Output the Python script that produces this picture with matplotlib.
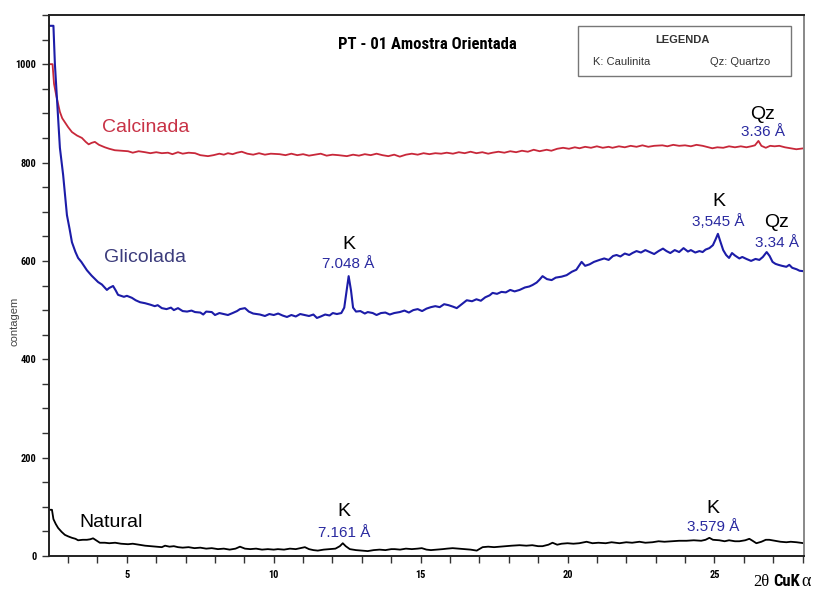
import matplotlib.pyplot as plt
from matplotlib.patches import Rectangle
from matplotlib.ticker import MultipleLocator

# Calcinada (red)
calc_x = [2.35, 2.47, 2.52, 2.6, 2.72, 2.8, 2.89, 3.0, 3.13, 3.3, 3.47, 3.6, 3.7, 3.8, 3.91,
          4.05, 4.25, 4.4, 4.59, 4.8, 5.04, 5.2, 5.4, 5.62, 5.8, 6.0, 6.19, 6.4, 6.55, 6.74,
          6.9, 7.1, 7.32, 7.5, 7.76, 7.95, 8.15, 8.3, 8.44, 8.6, 8.75, 8.91, 9.1, 9.3, 9.5,
          9.7, 9.9, 10.2, 10.4, 10.6, 10.8, 11.0, 11.2, 11.4, 11.6, 11.8, 12.0, 12.2, 12.49,
          12.7, 12.9, 13.1, 13.3, 13.5, 13.7, 13.9, 14.1, 14.29, 14.5, 14.7, 14.9, 15.1, 15.3,
          15.5, 15.7, 15.89, 16.1, 16.3, 16.5, 16.7, 16.9, 17.1, 17.3, 17.45, 17.65, 17.85,
          18.05, 18.25, 18.45, 18.65, 18.85, 19.05, 19.29, 19.45, 19.65, 19.85, 20.05, 20.25,
          20.41, 20.6, 20.8, 21.0, 21.2, 21.4, 21.53, 21.75, 21.95, 22.15, 22.35, 22.55, 22.75,
          22.95, 23.23, 23.4, 23.6, 23.8, 24.0, 24.2, 24.39, 24.6, 24.8, 24.93, 25.1, 25.3,
          25.5, 25.7, 25.9, 26.09, 26.25, 26.38, 26.5, 26.6, 26.75, 26.9, 27.05, 27.21, 27.4,
          27.6, 27.79, 28.05]
calc_y = [1000, 1000, 960, 935, 903, 890, 882, 872, 862, 855, 850, 842, 837, 840, 842,
          836, 831, 828, 825, 824, 823, 820, 823, 821, 819, 821, 819, 820, 817, 821,
          818, 820, 819, 815, 813, 815, 818, 816, 819, 817, 820, 822, 818, 816, 819,
          816, 818, 817, 815, 818, 815, 817, 814, 816, 818, 814, 816, 815, 813,
          816, 814, 817, 815, 818, 815, 813, 816, 812, 816, 818, 816, 819, 817,
          819, 818, 820, 818, 821, 819, 822, 819, 821, 818, 820, 822, 820,
          823, 821, 824, 822, 826, 823, 826, 824, 828, 830, 828, 831,
          829, 832, 830, 833, 830, 832, 830, 833, 831, 834, 832, 835, 832,
          834, 835, 833, 836, 834, 835, 833, 836, 834, 831, 829, 831, 830,
          833, 831, 833, 831, 833, 835, 844, 834, 830, 834, 833, 834, 831,
          829, 827, 829]

# Glicolada (blue)
glic_x = [2.35, 2.5, 2.55, 2.65, 2.72, 2.83, 2.96, 3.05, 3.13, 3.25, 3.34, 3.45, 3.64, 3.8,
          4.02, 4.15, 4.32, 4.4, 4.53, 4.62, 4.7, 4.9, 5.0, 5.17, 5.3, 5.45, 5.62, 5.8, 5.95,
          6.05, 6.19, 6.35, 6.5, 6.6, 6.74, 6.9, 7.05, 7.2, 7.32, 7.5, 7.6, 7.7, 7.89, 8.0,
          8.15, 8.3, 8.44, 8.6, 8.75, 8.85, 9.02, 9.15, 9.3, 9.53, 9.7, 9.85, 10.0, 10.15,
          10.3, 10.45, 10.6, 10.75, 10.9, 11.05, 11.2, 11.35, 11.47, 11.6, 11.75, 11.9, 12.01,
          12.15, 12.3, 12.4, 12.47, 12.55, 12.63, 12.7, 12.8, 12.95, 13.1, 13.2, 13.37, 13.5,
          13.65, 13.8, 13.95, 14.1, 14.29, 14.45, 14.6, 14.75, 14.9, 15.05, 15.2, 15.35, 15.5,
          15.65, 15.8, 15.95, 16.1, 16.23, 16.4, 16.57, 16.75, 16.9, 17.05, 17.2, 17.35,
          17.45, 17.6, 17.75, 17.9, 18.05, 18.2, 18.37, 18.55, 18.7, 18.81, 18.95, 19.05,
          19.15, 19.3, 19.46, 19.6, 19.8, 19.97, 20.15, 20.3, 20.48, 20.6, 20.75, 20.9, 21.09,
          21.25, 21.4, 21.55, 21.67, 21.8, 21.95, 22.1, 22.21, 22.35, 22.5, 22.65, 22.8,
          22.95, 23.1, 23.25, 23.37, 23.5, 23.65, 23.8, 23.95, 24.1, 24.2, 24.35, 24.49,
          24.6, 24.7, 24.83, 24.95, 25.05, 25.12, 25.2, 25.3, 25.4, 25.5, 25.6, 25.7, 25.85,
          25.95, 26.09, 26.25, 26.4, 26.53, 26.65, 26.78, 26.88, 26.98, 27.08, 27.18, 27.3,
          27.45, 27.55, 27.65, 27.8, 27.9, 28.05]
glic_y = [1078, 1078, 1000, 900, 830, 775, 693, 665, 638, 618, 606, 598, 581, 570,
          557, 552, 541, 545, 549, 540, 531, 527, 529, 525, 520, 516, 514, 511, 508,
          510, 504, 502, 505, 500, 504, 498, 497, 499, 496, 495, 491, 497, 496, 490,
          494, 492, 490, 494, 498, 502, 504, 497, 493, 491, 488, 492, 490, 493,
          489, 486, 490, 487, 492, 490, 488, 491, 484, 487, 491, 489, 494,
          492, 494, 505, 535, 569, 540, 505, 497, 498, 493, 496, 494, 490,
          494, 495, 491, 494, 496, 499, 495, 500, 502, 498, 503, 506, 508,
          506, 512, 510, 507, 504, 512, 520, 518, 522, 519, 526, 530,
          535, 533, 537, 536, 541, 538, 541, 546, 548, 551, 556, 562,
          569, 563, 561, 566, 568, 571, 578, 582, 598, 590, 593, 598, 602,
          605, 602, 610, 612, 609, 615, 612, 616, 620, 617, 622, 618,
          614, 620, 625, 620, 616, 622, 618, 626, 619, 622, 617, 620,
          618, 623, 626, 632, 645, 655, 640, 622, 612, 606, 616, 611, 605,
          608, 604, 600, 604, 602, 608, 618, 610, 598, 594, 592, 590,
          588, 592, 586, 583, 580, 579]

# Natural (black)
nat_x = [2.35, 2.45, 2.5, 2.58, 2.66, 2.78, 2.89, 3.0, 3.13, 3.25, 3.34, 3.5, 3.64, 3.75,
         3.85, 3.95, 4.08, 4.25, 4.4, 4.6, 4.8, 5.04, 5.2, 5.4, 5.62, 5.8, 6.0, 6.19, 6.3,
         6.45, 6.6, 6.74, 6.9, 7.1, 7.3, 7.5, 7.7, 7.89, 8.1, 8.3, 8.5, 8.7, 8.85, 9.02,
         9.2, 9.4, 9.6, 9.8, 10.0, 10.14, 10.35, 10.55, 10.75, 10.9, 11.06, 11.2, 11.35,
         11.5, 11.7, 11.9, 12.1, 12.25, 12.35, 12.45, 12.59, 12.8, 13.0, 13.2, 13.4, 13.6,
         13.8, 14.0, 14.12, 14.3, 14.5, 14.7, 14.9, 15.04, 15.2, 15.35, 15.55, 15.75, 15.9,
         16.09, 16.3, 16.5, 16.7, 16.91, 17.11, 17.3, 17.5, 17.7, 17.9, 18.1, 18.37, 18.6,
         18.8, 19.0, 19.15, 19.35, 19.49, 19.65, 19.8, 20.0, 20.2, 20.4, 20.65, 20.85,
         21.05, 21.3, 21.5, 21.77, 22.0, 22.2, 22.45, 22.65, 22.89, 23.1, 23.3, 23.55, 23.8,
         24.05, 24.3, 24.55, 24.7, 24.83, 24.95, 25.17, 25.35, 25.5, 25.7, 25.85, 26.05,
         26.19, 26.3, 26.43, 26.6, 26.75, 26.87, 27.05, 27.25, 27.45, 27.6, 27.8, 28.05]
nat_y = [94, 94, 75, 65, 57, 49, 43, 40, 37, 35, 32, 33, 33, 34,
         36, 32, 27, 27, 26, 27, 25, 24, 25, 23, 21, 20, 19, 18, 21,
         19, 20, 18, 17, 18, 16, 17, 15, 16, 14, 15, 13, 15, 19, 15,
         14, 15, 13, 14, 13, 14, 13, 15, 14, 16, 18, 14, 12,
         11, 13, 14, 15, 20, 26, 20, 14, 12, 11, 10, 12, 13,
         12, 14, 14, 13, 15, 14, 15, 16, 13, 12, 13, 14, 15,
         16, 15, 14, 13, 11, 18, 19, 18, 19, 20, 21, 22, 21,
         22, 20, 20, 23, 27, 23, 25, 26, 25, 26, 29, 26,
         27, 26, 28, 26, 28, 27, 29, 27, 28, 30, 29, 30, 31,
         31, 32, 31, 33, 37, 33, 32, 30, 32, 30, 30, 32,
         35, 31, 26, 29, 33, 33, 31, 29, 28, 29, 28, 26]

RED = "#c8283a"
BLUE = "#1c1ca8"
LBLUE = "#2a2aa0"

NARROW = ["Liberation Sans Narrow", "DejaVu Sans Condensed", "Roboto Condensed",
          "Liberation Sans"]
SANS = ["Liberation Sans", "DejaVu Sans"]
SERIF = ["Liberation Serif", "DejaVu Serif"]

fig = plt.figure(figsize=(8.13, 5.90), dpi=100)
ax = fig.add_axes([0.0603, 0.0576, 0.9286, 0.917])

ax.plot(calc_x, calc_y, color=RED, lw=1.3)
ax.plot(glic_x, glic_y, color=BLUE, lw=1.5)
ax.plot(nat_x, nat_y, color="black", lw=1.3)

ax.set_xlim(2.35, 28.05)
ax.set_ylim(0, 1100)

ax.xaxis.set_major_locator(MultipleLocator(5))
ax.xaxis.set_minor_locator(MultipleLocator(1))
ax.yaxis.set_major_locator(MultipleLocator(200))
ax.yaxis.set_minor_locator(MultipleLocator(50))
ax.tick_params(which="both", direction="out", length=5, width=1, color="#333333")
ax.tick_params(axis="x", pad=5)
ax.tick_params(axis="y", pad=4)
for lab in ax.get_xticklabels() + ax.get_yticklabels():
    lab.set_family(NARROW)
    lab.set_fontweight("bold")
    lab.set_fontsize(7.5)

for s in ["left", "bottom", "top"]:
    ax.spines[s].set_linewidth(1.4)
    ax.spines[s].set_color("#222222")
ax.spines["right"].set_color("#888888")
ax.spines["right"].set_linewidth(1.4)

# titulo e legenda
fig.text(0.526, 0.924, "PT - 01 Amostra Orientada", family=NARROW, fontweight="bold",
         fontsize=12, ha="center", va="center")
fig.patches.append(Rectangle((0.711, 0.871), 0.262, 0.0847, transform=fig.transFigure,
                             fill=False, edgecolor="#777777", lw=1))
fig.text(0.840, 0.932, "LEGENDA", family=SANS, fontweight="bold", fontsize=8,
         ha="center", va="center", color="#333333")
fig.text(0.729, 0.895, "K: Caulinita", family=SANS, fontsize=8, ha="left", va="center",
         color="#333333")
fig.text(0.947, 0.895, "Qz: Quartzo", family=SANS, fontsize=8, ha="right", va="center",
         color="#333333")

# nomes das curvas
ax.text(4.15, 872, "Calcinada", color="#c83246", family=SANS, fontsize=14, va="center")
ax.text(4.22, 606, "Glicolada", color="#3c3c7c", family=SANS, fontsize=14, va="center")
ax.text(3.40, 69, "Natural", color="black", family=SANS, fontsize=14, va="center")

# picos
peaks = [
    ("Qz", "3.36 Å", 26.64, 897, 862),
    ("K", "7.048 Å", 12.55, 634, 594),
    ("K", "3,545 Å", 25.14, 720, 681),
    ("Qz", "3.34 Å", 27.12, 679, 636),
    ("K", "7.161 Å", 12.40, 90, 47),
    ("K", "3.579 Å", 24.96, 96, 59),
]
for mineral, dist, px, y1, y2 in peaks:
    ax.text(px, y1, mineral, family=SANS, fontsize=14, ha="center", va="center")
    ax.text(px, y2, dist, family=SANS, fontsize=11, ha="center", va="center", color=LBLUE)

fig.text(0.018, 0.455, "contagem", rotation=90, family=SANS, fontsize=8,
         ha="center", va="center", color="#444444")

# eixo x: 2θ CuKα, montado da direita para a esquerda
t_alpha = fig.text(0.997, 0.014, "α", family=SERIF, fontsize=13, ha="right", va="center")
t_cuk = ax.annotate("CuK", xy=(0, 0.5), xycoords=t_alpha, xytext=(-0.5, 0),
                    textcoords="offset points", family=NARROW, fontweight="bold",
                    fontsize=12, ha="right", va="center", annotation_clip=False)
ax.annotate("2θ", xy=(0, 0.5), xycoords=t_cuk, xytext=(-3, 0),
            textcoords="offset points", family=SERIF, fontsize=12,
            ha="right", va="center", annotation_clip=False)

fig.savefig("out.png", dpi=100)
